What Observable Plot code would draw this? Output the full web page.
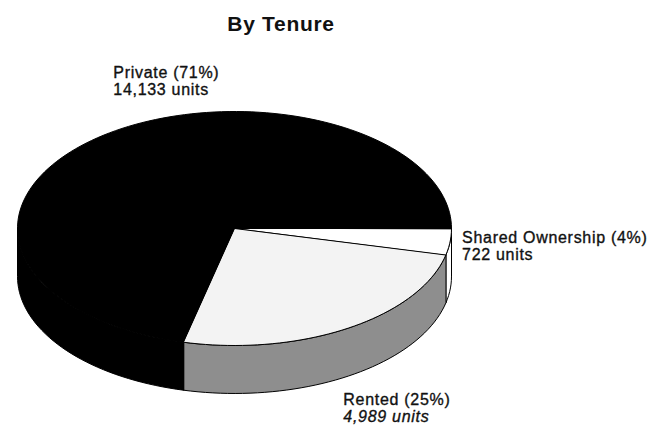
<!DOCTYPE html>
<html>
<head>
<meta charset="utf-8">
<script src="https://cdn.jsdelivr.net/npm/d3@7"></script>
<script src="https://cdn.jsdelivr.net/npm/@observablehq/plot@0.6"></script>
<style>
  html, body { margin: 0; padding: 0; background: #fff; }
  #chart svg { display: block; }
  #chart svg text { letter-spacing: 0.7px; }
</style>
</head>
<body>
<div id="chart"></div>
<script>
// ---- data ----
const title = "By Tenure";
const categories = ["Shared Ownership", "Rented", "Private"];
const units = [722, 4989, 14133];
const percentLabels = ["4%", "25%", "71%"];
const unitLabels = ["722 units", "4,989 units", "14,133 units"];

// ---- styles ----
const topFill = ["#ffffff", "#f3f3f3", "#000000"];
const sideFill = ["#ffffff", "#8e8e8e", "#000000"];
const depth = 0.41;          // pie thickness in radius-y units
const labelOffset = [        // [dx, dy] offsets of label from slice rim point
  [12, 1], [-5, 77], [13, -59]
];
const italicSecondLine = [false, true, false];

// ---- geometry (in unit-circle data space) ----
const total = d3.sum(units);
let acc = 0;
const slices = units.map((u, i) => {
  const a0 = acc / total * 360;
  acc += u;
  const a1 = acc / total * 360;
  return {i, a0, a1};
});
const rad = d => d * Math.PI / 180;
function arc(a0, a1, h) {
  const n = Math.max(2, Math.ceil((a1 - a0) / 2));
  const pts = [];
  for (let k = 0; k <= n; k++) {
    const a = rad(a0 + (a1 - a0) * k / n);
    pts.push({x: Math.cos(a), y: Math.sin(a) + h});
  }
  return pts;
}
const sides = [];
const tops = [];
for (const s of slices) {
  const b0 = Math.max(s.a0, 0), b1 = Math.min(s.a1, 180);
  if (b1 > b0) {
    const poly = [...arc(b0, b1, 0), ...arc(b0, b1, depth).reverse()];
    poly.forEach(p => sides.push({...p, id: s.i, fill: sideFill[s.i]}));
  }
  const poly = [{x: 0, y: 0}, ...arc(s.a0, s.a1, 0)];
  poly.forEach(p => tops.push({...p, id: s.i, fill: topFill[s.i]}));
}
const labels = slices.map(s => {
  const m = rad((s.a0 + s.a1) / 2);
  return {
    x: Math.cos(m), y: Math.sin(m),
    line1: `${categories[s.i]} (${percentLabels[s.i]})`,
    line2: unitLabels[s.i],
    dx: labelOffset[s.i][0], dy: labelOffset[s.i][1],
    italic: italicSecondLine[s.i]
  };
});

const font = "'Liberation Sans', Arial, Helvetica, sans-serif";

const chart = Plot.plot({
  width: 671,
  height: 430,
  margin: 0,
  x: {domain: [-1, 1], range: [17, 451], axis: null},
  y: {domain: [-1, 1], range: [111, 345], axis: null},
  color: {type: "identity"},
  marks: [
    Plot.line(sides, {x: "x", y: "y", z: "id", fill: "fill", stroke: "#000", strokeWidth: 1, curve: "linear-closed"}),
    Plot.line(tops, {x: "x", y: "y", z: "id", fill: "fill", stroke: "#000", strokeWidth: 1, curve: "linear-closed"}),
    ...labels.map(l => Plot.text([l], {
      x: "x", y: "y", text: "line1", dx: l.dx, dy: l.dy,
      textAnchor: "start", lineAnchor: "bottom", fontSize: 16, fill: "#111", fontFamily: font,
      stroke: "#111", strokeWidth: 0.35
    })),
    ...labels.map(l => Plot.text([l], {
      x: "x", y: "y", text: "line2", dx: l.dx, dy: l.dy + 17,
      textAnchor: "start", lineAnchor: "bottom", fontSize: 16, fill: "#111", fontFamily: font,
      stroke: "#111", strokeWidth: 0.35,
      fontStyle: l.italic ? "italic" : "normal"
    })),
    Plot.text([title], {
      frameAnchor: "top", dx: -55, dy: 30, lineAnchor: "bottom",
      fontSize: 21, fontWeight: "bold", fill: "#111", fontFamily: font
    })
  ]
});
document.getElementById("chart").appendChild(chart);
</script>
</body>
</html>
